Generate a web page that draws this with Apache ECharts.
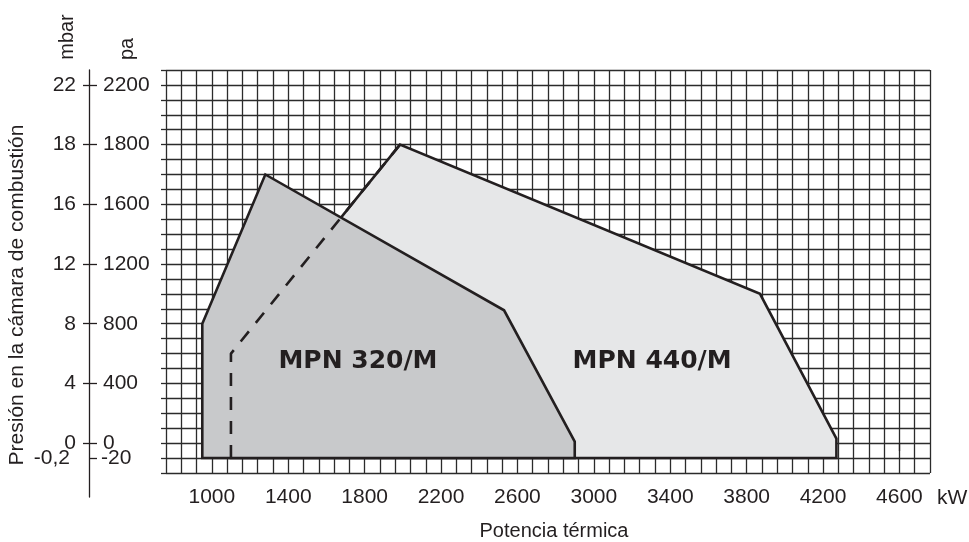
<!DOCTYPE html>
<html>
<head>
<meta charset="utf-8">
<title>MPN 320/M - MPN 440/M</title>
<script src="https://cdn.jsdelivr.net/npm/echarts@6/dist/echarts.min.js"></script>
<style>
  html, body { margin: 0; padding: 0; background: #fff; }
  #main { width: 969px; height: 542px; }
</style>
</head>
<body>
<div id="main"></div>
<script>
// x ticks, kW
var kwTicks = [1000, 1400, 1800, 2200, 2600, 3000, 3400, 3800, 4200, 4600];

// y ticks: the printed scale is not linear, each label sits on its own grid row
var paTicks = [-20, 0, 400, 800, 1200, 1600, 1800, 2200];
var mbarTicks = ['-0,2', '0', '4', '8', '12', '16', '18', '22'];
var tickRows = [-1, 0, 4, 8, 12, 16, 20, 24];

// working fields, [kW, pa]
var mpn320 = [[950, -20], [950, 800], [1280, 1700], [2530, 890], [2900, 10], [2900, -20]];
var mpn440 = [[1100, -20], [1100, 600], [1985, 1800], [3870, 1000], [4270, 30], [4270, -20]];
var fieldNames = ['MPN 320/M', 'MPN 440/M'];
var fieldNameAt = [[1765, 550], [3305, 550]];

var INK = '#231f20';
var GRIDLINE = '#2b2b2b';
var FONT = 'Liberation Sans';

// pa -> grid row, following the printed labels
function paToRow(pa) {
    for (var i = 0; i < paTicks.length - 1; i++) {
        if (pa <= paTicks[i + 1] || i === paTicks.length - 2) {
            var t = (pa - paTicks[i]) / (paTicks[i + 1] - paTicks[i]);
            return tickRows[i] + t * (tickRows[i + 1] - tickRows[i]);
        }
    }
}

function rowLabel(list) {
    return function (v) {
        var i = tickRows.indexOf(Math.round(v));
        return i < 0 ? '' : String(list[i]);
    };
}

function fieldSeries(points, fill, z) {
    var rows = points.map(function (p) { return [p[0], paToRow(p[1])]; });
    return {
        type: 'custom',
        xAxisIndex: 0,
        yAxisIndex: 0,
        z: z,
        silent: true,
        data: rows,
        encode: { x: 0, y: 1 },
        renderItem: function (params, api) {
            if (params.dataIndex !== 0) return null;
            return {
                type: 'polygon',
                shape: { points: rows.map(function (r) { return api.coord(r); }) },
                style: { fill: fill, stroke: INK, lineWidth: 2.6, lineJoin: 'miter' }
            };
        }
    };
}

// main grid: rows -2..25, left label axis runs a bit lower than the grid
var rowMin = -2, rowMax = 25;
var gridTop = 70, gridBottom = 69, scaleBottom = 45, H = 542;
var scaleMin = rowMax - (H - gridTop - scaleBottom) * (rowMax - rowMin) / (H - gridTop - gridBottom);

// the -20 / -0,2 row sits on its own axes so it is not dropped next to the 0 row
var mainRows = tickRows.slice(1);
var lowRows = tickRows.slice(0, 1);

function scaleAxis(rows, inside, showLine, tickLen, margin, labels) {
    return {
        gridIndex: 1, type: 'value', position: 'left',
        min: scaleMin, max: rowMax,
        axisLine: { show: showLine, lineStyle: { color: INK, width: 1.3 } },
        axisTick: { show: tickLen > 0, inside: inside, length: tickLen, customValues: rows, lineStyle: { color: INK, width: 1.3 } },
        axisLabel: {
            inside: inside, margin: margin, customValues: rows, hideOverlap: false,
            formatter: rowLabel(labels), fontSize: 21, color: INK, fontFamily: FONT
        },
        splitLine: { show: false }
    };
}

var chart = echarts.init(document.getElementById('main'));

var option = {
    animation: false,
    textStyle: { fontFamily: FONT, color: INK },
    grid: [
        { left: 166, right: 39, top: gridTop, bottom: gridBottom, outerBoundsMode: 'none' },
        { left: 89, width: 60, top: gridTop, bottom: scaleBottom, outerBoundsMode: 'none' }
    ],
    xAxis: [
        {
            gridIndex: 0, type: 'value', position: 'bottom',
            min: 760, max: 4760,
            axisLine: { show: false },
            axisTick: { show: true, customValues: kwTicks, length: 8, lineStyle: { color: INK, width: 1.3 } },
            axisLabel: {
                customValues: kwTicks, margin: 14, fontSize: 21, color: INK, fontFamily: FONT,
                formatter: function (v) { return String(v); }
            },
            splitLine: { show: false }
        },
        {
            // grid cells, 80 kW each
            gridIndex: 0, type: 'value', position: 'top',
            min: 0, max: 50, interval: 1,
            axisLine: { show: false }, axisTick: { show: false }, axisLabel: { show: false },
            splitLine: { show: true, lineStyle: { color: GRIDLINE, width: 1.3 } }
        },
        {
            // partner for the pressure scale
            gridIndex: 1, type: 'value', show: false, min: 0, max: 1
        }
    ],
    yAxis: [
        {
            gridIndex: 0, type: 'value', position: 'left',
            min: rowMin, max: rowMax, interval: 1,
            axisLine: { show: false },
            axisTick: { show: true, length: 5, lineStyle: { color: GRIDLINE, width: 1.3 } },
            axisLabel: { show: false },
            splitLine: { show: true, lineStyle: { color: GRIDLINE, width: 1.3 } }
        },
        scaleAxis(mainRows, true, true, 8, 14, paTicks),     // pa, right of the line
        scaleAxis(mainRows, false, false, 6, 13, mbarTicks), // mbar, left of the line
        scaleAxis(lowRows, true, false, 8, 12, paTicks),
        scaleAxis(lowRows, false, false, 0, 19, mbarTicks)
    ],
    graphic: [
        { type: 'text', x: 67, y: 37, rotation: Math.PI / 2, style: { text: 'mbar', font: '20px ' + FONT, fill: INK, align: 'center', verticalAlign: 'middle' } },
        { type: 'text', x: 127, y: 49, rotation: Math.PI / 2, style: { text: 'pa', font: '20px ' + FONT, fill: INK, align: 'center', verticalAlign: 'middle' } },
        { type: 'text', x: 17, y: 295, rotation: Math.PI / 2, style: { text: 'Presión en la cámara de combustión', font: '21px ' + FONT, fill: INK, align: 'center', verticalAlign: 'middle' } },
        { type: 'text', x: 554, y: 531, style: { text: 'Potencia térmica', font: '20px ' + FONT, fill: INK, align: 'center', verticalAlign: 'middle' } },
        { type: 'text', x: 937, y: 498, style: { text: 'kW', font: '21px ' + FONT, fill: INK, align: 'left', verticalAlign: 'middle' } }
    ],
    series: [
        fieldSeries(mpn440, '#e6e7e8', 3),
        fieldSeries(mpn320, '#c8c9cb', 4),
        {
            // hidden part of the MPN 440/M border
            type: 'line', xAxisIndex: 0, yAxisIndex: 0, z: 5, silent: true,
            data: mpn440.slice(0, 3).map(function (p) { return [p[0], paToRow(p[1])]; }),
            symbol: 'none',
            lineStyle: { color: INK, width: 2.6, type: [13, 11] }
        },
        {
            type: 'scatter', xAxisIndex: 0, yAxisIndex: 0, z: 6, silent: true,
            symbolSize: 0,
            itemStyle: { color: 'transparent' },
            data: fieldNameAt.map(function (p, i) { return [p[0], paToRow(p[1]), fieldNames[i]]; }),
            label: {
                show: true, position: 'inside', opacity: 1, textBorderWidth: 0,
                formatter: function (p) { return p.value[2]; },
                fontFamily: 'DejaVu Sans', fontWeight: 'bold', fontSize: 25, color: INK
            }
        }
    ]
};

chart.setOption(option);

window.onresize = function () {
    chart.resize();
};
</script>
</body>
</html>
